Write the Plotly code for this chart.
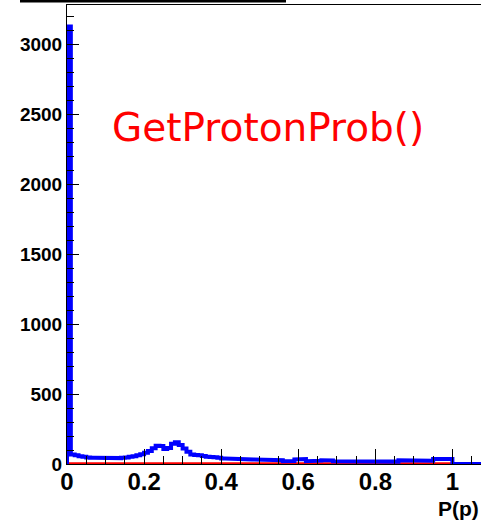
import numpy as np
import plotly.graph_objects as go

# ---- data (bin width 0.01, bins starting at 0) ----
bin_width = 0.01
blue_counts = [
    3125, 68, 62, 56, 52, 47, 45, 44, 43, 42,
    41, 41, 42, 42, 44, 47, 51, 55, 62, 70,
    80, 92, 112, 130, 128, 107, 115, 145, 155, 135,
    110, 88, 68, 64, 62, 58, 52, 50, 48, 44,
    40, 40, 39, 38, 38, 37, 35, 33, 32, 30,
    31, 30, 32, 30, 29, 27, 20, 19, 21, 33,
    40, 35, 20, 18, 20, 24, 27, 28, 26, 19,
    18, 19, 20, 17, 18, 16, 17, 18, 17, 17,
    16, 18, 17, 17, 16, 17, 27, 28, 26, 25,
    24, 25, 26, 23, 24, 35, 40, 42, 38, 36,
    0, 0, 0, 0, 0, 0, 0, 0, 0, 0,
]
red_counts = [6] * 100

y_tickvals = [0, 500, 1000, 1500, 2000, 2500, 3000]
y_ticktext = ["0", "500", "1000", "1500", "2000", "2500", "3000"]
x_tickvals = [0, 0.2, 0.4, 0.6, 0.8, 1.0]
x_ticktext = ["0", "0.2", "0.4", "0.6", "0.8", "1"]
title_text = "GetProtonProb()"
x_title = "P(p)"


def step_xy(counts):
    edges = np.round(np.arange(len(counts) + 1) * bin_width, 6)
    xs = [edges[0]]
    ys = [0]
    for i, c in enumerate(counts):
        xs += [edges[i], edges[i + 1]]
        ys += [c, c]
    xs.append(edges[-1])
    ys.append(0)
    return xs, ys


fig = go.Figure()
rx, ry = step_xy(red_counts)
fig.add_trace(go.Scatter(x=rx, y=ry, mode="lines",
                         line=dict(color="#ff0000", width=2), hoverinfo="skip"))
bx, by = step_xy(blue_counts)
fig.add_trace(go.Scatter(x=bx, y=by, mode="lines",
                         line=dict(color="#0000ff", width=4), hoverinfo="skip"))

W, H = 481, 521
L, T, B = 67, 5, 57
plot_w = W - L
plot_h = H - T - B

fig.update_layout(
    width=W, height=H,
    margin=dict(l=L, r=0, t=T, b=B, pad=0),
    paper_bgcolor="white", plot_bgcolor="white",
    showlegend=False,
    xaxis=dict(
        range=[0, 1.0742], showgrid=False, zeroline=False,
        showline=True, linecolor="black", linewidth=1, mirror=True,
        ticks="inside", ticklen=15, tickcolor="black", tickwidth=1,
        tickvals=x_tickvals, ticktext=x_ticktext, ticklabelstandoff=-4,
        tickfont=dict(family="Liberation Sans", size=24, color="black", weight="bold"),
        minor=dict(dtick=0.05, tick0=0, ticks="inside", ticklen=8,
                   tickcolor="black", tickwidth=1, showgrid=False),
    ),
    yaxis=dict(
        range=[0, 3278.6], showgrid=False, zeroline=False,
        showline=True, linecolor="black", linewidth=1,
        ticks="inside", ticklen=12, tickcolor="black", tickwidth=1,
        tickvals=y_tickvals, ticktext=y_ticktext,
        tickfont=dict(family="Liberation Sans", size=19, color="black", weight="bold"),
        minor=dict(dtick=100, tick0=0, ticks="inside", ticklen=7,
                   tickcolor="black", tickwidth=1, showgrid=False),
    ),
    shapes=[dict(type="rect", xref="paper", yref="paper",
                 x0=(20 - L) / plot_w, x1=(286 - L) / plot_w,
                 y0=1 + 2.5 / plot_h, y1=1 + 6 / plot_h,
                 fillcolor="black", line=dict(width=0))],
    annotations=[
        dict(text=title_text, xref="paper", yref="paper",
             x=(268 - L) / plot_w, y=1 - (127 - T) / plot_h,
             xanchor="center", yanchor="middle", showarrow=False,
             font=dict(family="DejaVu Sans", size=39, color="#ff0000")),
        dict(text=x_title, xref="paper", yref="paper",
             x=1.0, y=-(508 - (T + plot_h)) / plot_h,
             xanchor="right", yanchor="middle", showarrow=False,
             font=dict(family="Liberation Sans", size=21, color="black", weight="bold")),
    ],
)

fig.write_html("out.html")
